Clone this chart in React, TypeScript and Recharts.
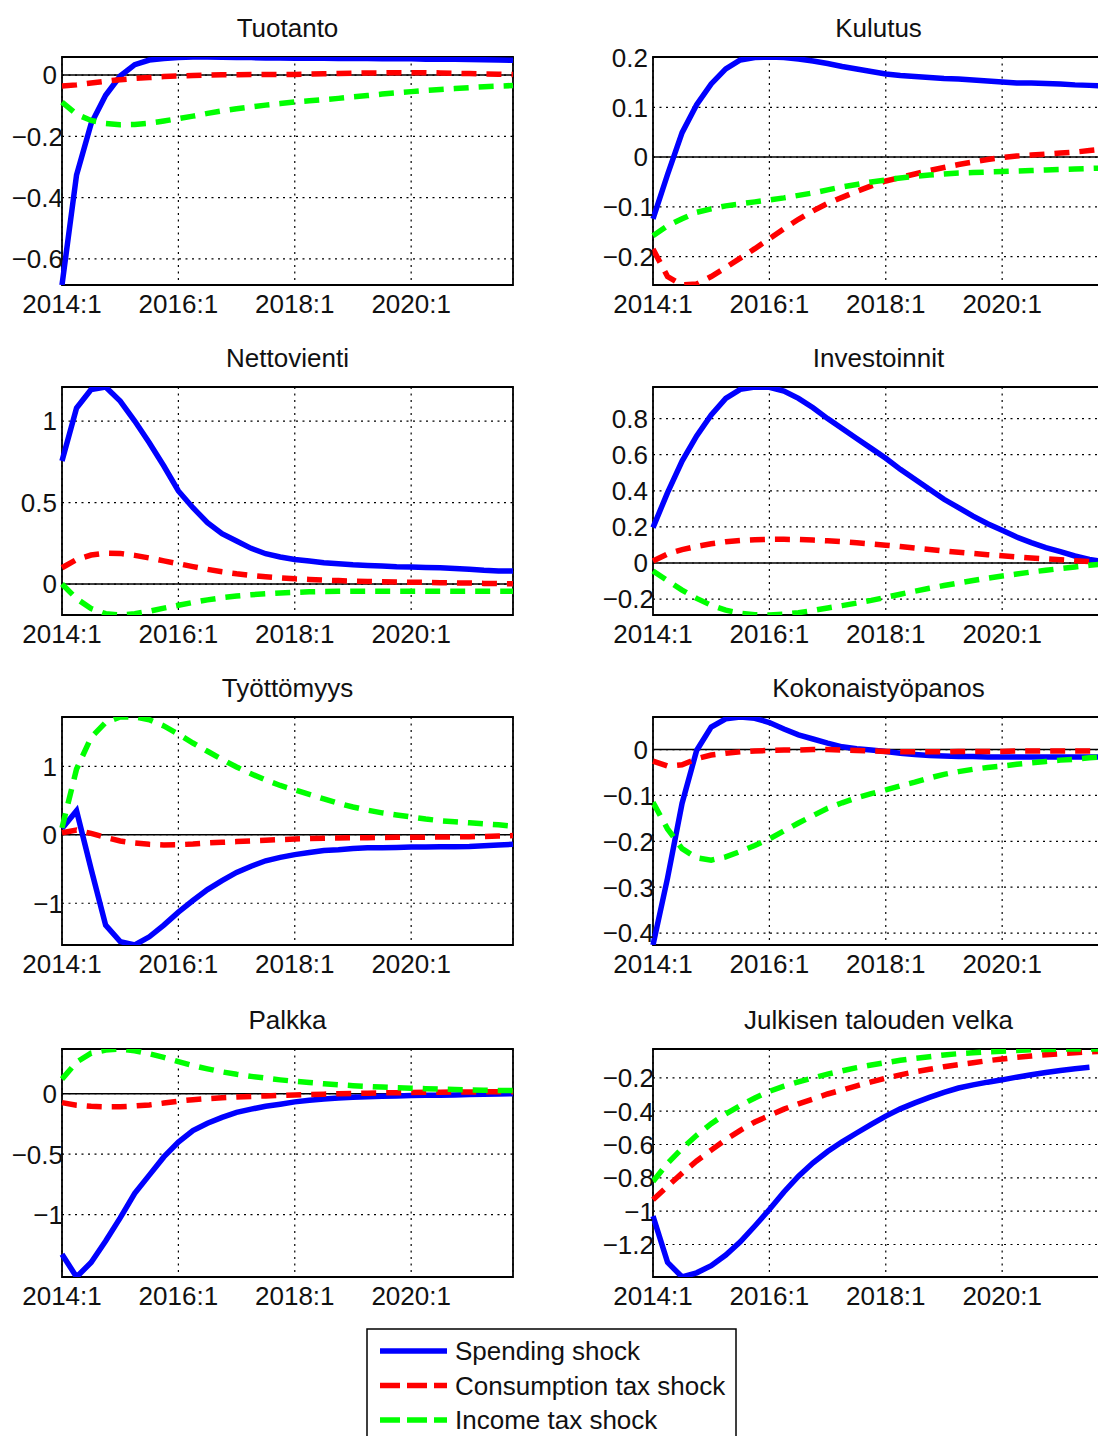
import React from "react";
import {
  LineChart,
  Line,
  XAxis,
  YAxis,
  CartesianGrid,
  ReferenceLine,
  ReferenceArea,
} from "recharts";

const quarters = [
  "2014:1", "2014:2", "2014:3", "2014:4",
  "2015:1", "2015:2", "2015:3", "2015:4",
  "2016:1", "2016:2", "2016:3", "2016:4",
  "2017:1", "2017:2", "2017:3", "2017:4",
  "2018:1", "2018:2", "2018:3", "2018:4",
  "2019:1", "2019:2", "2019:3", "2019:4",
  "2020:1", "2020:2", "2020:3", "2020:4",
  "2021:1", "2021:2", "2021:3", "2021:4",
];
const xTicks = ["2014:1", "2016:1", "2018:1", "2020:1"];
const seriesNames = ["Spending shock", "Consumption tax shock", "Income tax shock"];

// Tuotanto
const tuotantoSpending = [-0.685, -0.326, -0.159, -0.066, -0.003, 0.034, 0.049, 0.054, 0.057, 0.059, 0.059, 0.058, 0.057, 0.057, 0.056, 0.056, 0.055, 0.055, 0.055, 0.054, 0.054, 0.054, 0.053, 0.053, 0.053, 0.052, 0.052, 0.052, 0.051, 0.05, 0.049, 0.048];
const tuotantoConsumption = [-0.036, -0.032, -0.026, -0.02, -0.015, -0.011, -0.008, -0.005, -0.003, -0.001, 0, 0.001, 0.001, 0.002, 0.002, 0.002, 0.002, 0.003, 0.004, 0.005, 0.006, 0.007, 0.007, 0.008, 0.008, 0.008, 0.007, 0.006, 0.005, 0.004, 0.003, 0.002];
const tuotantoIncome = [-0.088, -0.128, -0.148, -0.158, -0.162, -0.161, -0.157, -0.15, -0.142, -0.134, -0.125, -0.117, -0.11, -0.104, -0.098, -0.093, -0.088, -0.084, -0.08, -0.076, -0.071, -0.067, -0.062, -0.058, -0.054, -0.05, -0.047, -0.044, -0.041, -0.038, -0.036, -0.034];

// Kulutus
const kulutusSpending = [-0.124, -0.035, 0.049, 0.105, 0.147, 0.177, 0.195, 0.2, 0.201, 0.2, 0.197, 0.193, 0.188, 0.182, 0.177, 0.172, 0.167, 0.164, 0.162, 0.16, 0.158, 0.157, 0.155, 0.153, 0.151, 0.149, 0.149, 0.148, 0.147, 0.145, 0.144, 0.143];
const kulutusConsumption = [-0.185, -0.24, -0.257, -0.255, -0.24, -0.222, -0.203, -0.184, -0.164, -0.144, -0.125, -0.108, -0.093, -0.081, -0.069, -0.058, -0.048, -0.041, -0.034, -0.027, -0.021, -0.015, -0.01, -0.005, -0.001, 0.002, 0.004, 0.006, 0.008, 0.01, 0.013, 0.016];
const kulutusIncome = [-0.158, -0.138, -0.124, -0.111, -0.104, -0.098, -0.094, -0.09, -0.086, -0.082, -0.077, -0.072, -0.066, -0.06, -0.055, -0.05, -0.046, -0.042, -0.039, -0.036, -0.034, -0.032, -0.031, -0.03, -0.029, -0.028, -0.027, -0.026, -0.025, -0.024, -0.023, -0.022];

// Nettovienti
const nettovientiSpending = [0.755, 1.08, 1.194, 1.209, 1.123, 1.0, 0.867, 0.724, 0.571, 0.468, 0.376, 0.309, 0.264, 0.219, 0.186, 0.166, 0.151, 0.141, 0.131, 0.125, 0.118, 0.114, 0.11, 0.106, 0.104, 0.102, 0.1, 0.096, 0.09, 0.084, 0.08, 0.08];
const nettovientiConsumption = [0.1, 0.15, 0.178, 0.19, 0.188, 0.176, 0.16, 0.142, 0.125, 0.107, 0.09, 0.075, 0.063, 0.053, 0.045, 0.038, 0.032, 0.028, 0.024, 0.021, 0.018, 0.016, 0.014, 0.012, 0.011, 0.01, 0.008, 0.007, 0.006, 0.004, 0.003, 0.002];
const nettovientiIncome = [0, -0.09, -0.15, -0.182, -0.19, -0.182, -0.167, -0.148, -0.13, -0.113, -0.097, -0.084, -0.074, -0.066, -0.06, -0.055, -0.051, -0.048, -0.046, -0.045, -0.044, -0.044, -0.044, -0.044, -0.044, -0.044, -0.044, -0.045, -0.045, -0.045, -0.045, -0.045];

// Investoinnit
const investoinnitSpending = [0.196, 0.39, 0.565, 0.704, 0.82, 0.912, 0.962, 0.975, 0.973, 0.953, 0.912, 0.86, 0.8, 0.745, 0.69, 0.635, 0.58, 0.519, 0.464, 0.408, 0.353, 0.307, 0.26, 0.218, 0.181, 0.144, 0.113, 0.085, 0.063, 0.039, 0.02, 0.007];
const investoinnitConsumption = [0.011, 0.05, 0.074, 0.092, 0.107, 0.118, 0.125, 0.129, 0.131, 0.131, 0.13, 0.127, 0.123, 0.118, 0.112, 0.106, 0.099, 0.091, 0.083, 0.075, 0.067, 0.06, 0.053, 0.046, 0.04, 0.034, 0.028, 0.023, 0.018, 0.013, 0.008, 0.004];
const investoinnitIncome = [-0.044, -0.098, -0.15, -0.196, -0.234, -0.261, -0.278, -0.287, -0.288, -0.284, -0.275, -0.263, -0.249, -0.236, -0.222, -0.207, -0.19, -0.173, -0.156, -0.14, -0.125, -0.111, -0.097, -0.084, -0.072, -0.061, -0.05, -0.04, -0.031, -0.022, -0.013, -0.006];

// Työttömyys
const tyottomyysSpending = [0.09, 0.35, -0.5, -1.32, -1.56, -1.61, -1.49, -1.32, -1.13, -0.96, -0.8, -0.67, -0.55, -0.46, -0.38, -0.33, -0.29, -0.26, -0.23, -0.22, -0.2, -0.19, -0.19, -0.185, -0.18, -0.18, -0.175, -0.175, -0.17, -0.16, -0.15, -0.14];
const tyottomyysConsumption = [0.03, 0.07, 0.02, -0.04, -0.09, -0.12, -0.14, -0.15, -0.145, -0.135, -0.12, -0.11, -0.1, -0.09, -0.08, -0.07, -0.062, -0.056, -0.05, -0.047, -0.044, -0.042, -0.04, -0.038, -0.037, -0.035, -0.033, -0.031, -0.028, -0.024, -0.018, -0.012];
const tyottomyysIncome = [0.1, 0.96, 1.42, 1.64, 1.72, 1.72, 1.68, 1.59, 1.47, 1.34, 1.22, 1.1, 0.99, 0.89, 0.8, 0.72, 0.655, 0.59, 0.525, 0.46, 0.405, 0.36, 0.32, 0.29, 0.26, 0.23, 0.205, 0.19, 0.175, 0.16, 0.145, 0.125];

// Kokonaistyöpanos
const tyopanosSpending = [-0.426, -0.28, -0.117, -0.002, 0.049, 0.067, 0.071, 0.068, 0.059, 0.045, 0.032, 0.023, 0.014, 0.006, 0.002, -0.001, -0.004, -0.008, -0.011, -0.013, -0.014, -0.015, -0.015, -0.016, -0.016, -0.016, -0.016, -0.016, -0.016, -0.016, -0.016, -0.016];
const tyopanosConsumption = [-0.025, -0.036, -0.033, -0.02, -0.012, -0.008, -0.005, -0.003, -0.002, -0.001, -0.001, 0, 0, -0.001, -0.002, -0.003, -0.004, -0.005, -0.005, -0.005, -0.005, -0.004, -0.004, -0.004, -0.004, -0.003, -0.003, -0.003, -0.003, -0.003, -0.003, -0.003];
const tyopanosIncome = [-0.115, -0.173, -0.216, -0.236, -0.241, -0.234, -0.222, -0.209, -0.195, -0.177, -0.16, -0.144, -0.128, -0.116, -0.105, -0.096, -0.088, -0.079, -0.071, -0.062, -0.054, -0.048, -0.043, -0.039, -0.036, -0.032, -0.029, -0.026, -0.023, -0.021, -0.018, -0.016];

// Palkka
const palkkaSpending = [-1.327, -1.515, -1.395, -1.218, -1.027, -0.823, -0.673, -0.523, -0.4, -0.305, -0.245, -0.196, -0.155, -0.128, -0.104, -0.087, -0.068, -0.054, -0.044, -0.035, -0.03, -0.025, -0.022, -0.019, -0.016, -0.014, -0.013, -0.011, -0.008, -0.005, -0.003, 0];
const palkkaConsumption = [-0.074, -0.095, -0.105, -0.109, -0.108, -0.102, -0.093, -0.078, -0.062, -0.05, -0.041, -0.034, -0.028, -0.023, -0.019, -0.015, -0.011, -0.007, -0.004, -0.001, 0.002, 0.004, 0.006, 0.008, 0.009, 0.011, 0.012, 0.013, 0.014, 0.015, 0.016, 0.016];
const palkkaIncome = [0.12, 0.26, 0.335, 0.36, 0.369, 0.355, 0.33, 0.3, 0.265, 0.232, 0.205, 0.18, 0.16, 0.143, 0.128, 0.114, 0.102, 0.092, 0.082, 0.074, 0.066, 0.06, 0.054, 0.049, 0.045, 0.041, 0.037, 0.034, 0.031, 0.029, 0.027, 0.026];

// Julkisen talouden velka
const velkaSpending = [-1.03, -1.307, -1.395, -1.37, -1.327, -1.263, -1.184, -1.089, -0.99, -0.885, -0.79, -0.71, -0.642, -0.584, -0.531, -0.479, -0.43, -0.386, -0.35, -0.317, -0.287, -0.261, -0.242, -0.226, -0.212, -0.196, -0.182, -0.168, -0.156, -0.145, -0.137, null];
const velkaConsumption = [-0.931, -0.851, -0.772, -0.699, -0.634, -0.57, -0.515, -0.465, -0.426, -0.388, -0.356, -0.327, -0.297, -0.273, -0.248, -0.224, -0.202, -0.182, -0.164, -0.149, -0.133, -0.121, -0.109, -0.097, -0.087, -0.077, -0.069, -0.061, -0.055, -0.05, -0.044, -0.04];
const velkaIncome = [-0.822, -0.713, -0.624, -0.545, -0.475, -0.416, -0.366, -0.321, -0.281, -0.25, -0.224, -0.2, -0.178, -0.158, -0.139, -0.123, -0.109, -0.095, -0.083, -0.073, -0.063, -0.055, -0.05, -0.044, -0.04, -0.036, -0.032, -0.03, -0.028, -0.027, -0.027, -0.027];

const FONT = '"Liberation Sans", Arial, Helvetica, sans-serif';
const FONT_SIZE = 26;
const colors = ["#0000ff", "#ff0000", "#00ff00"];
const keys = ["spending", "consumption", "income"];

const PLOT_W = 451;
const PLOT_H = 228;
const Y_AXIS_W = 62;
const TOP_PAD = 16;
const X_AXIS_H = 44;

const fmt = (v: number) => String(v).replace("-", "\u2212");

// MATLAB right-aligns assuming a hyphen, then draws a wider minus sign
const YTick = (props: any) => {
  const { x, y, payload } = props;
  const v = payload.value as number;
  return (
    <text
      x={v < 0 ? x + 1 : x - 5}
      y={y}
      dy="0.36em"
      textAnchor="end"
      fontSize={FONT_SIZE}
      fontFamily={FONT}
      fill="#111"
    >
      {fmt(v)}
    </text>
  );
};

type PanelProps = {
  title: string;
  spending: (number | null)[];
  consumption: number[];
  income: number[];
  yTicks: number[];
  plotLeft: number;
  plotTop: number;
};

function Panel({ title, spending, consumption, income, yTicks, plotLeft, plotTop }: PanelProps) {
  const data = quarters.map((q, i) => ({
    q,
    spending: spending[i],
    consumption: consumption[i],
    income: income[i],
  }));
  const all = [...spending, ...consumption, ...income].filter((v) => v !== null) as number[];
  const yMin = Math.min(...all);
  const yMax = Math.max(...all);

  return (
    <>
      <div
        style={{
          position: "absolute",
          left: plotLeft,
          top: plotTop - 42,
          width: PLOT_W,
          textAlign: "center",
          fontFamily: FONT,
          fontSize: FONT_SIZE,
          lineHeight: "26px",
          color: "#111",
          whiteSpace: "nowrap",
        }}
      >
        {title}
      </div>
      <div style={{ position: "absolute", left: plotLeft - Y_AXIS_W, top: plotTop - TOP_PAD }}>
        <LineChart
          width={Y_AXIS_W + PLOT_W + 30}
          height={TOP_PAD + PLOT_H + X_AXIS_H}
          data={data}
          margin={{ top: TOP_PAD, right: 30, bottom: 0, left: 0 }}
        >
          <CartesianGrid stroke="#000" strokeWidth={1.2} strokeDasharray="2 4.5" />
          <XAxis
            dataKey="q"
            type="category"
            ticks={xTicks}
            interval={0}
            height={X_AXIS_H}
            tickLine={false}
            axisLine={false}
            tickSize={0}
            tickMargin={10}
            tick={{ fill: "#111", fontSize: FONT_SIZE, fontFamily: FONT }}
          />
          <YAxis
            type="number"
            domain={[yMin, yMax]}
            ticks={yTicks}
            interval={0}
            allowDataOverflow
            width={Y_AXIS_W}
            tickLine={false}
            axisLine={false}
            tickSize={0}
            tickMargin={0}
            tick={<YTick />}
          />
          <ReferenceLine y={0} stroke="#000" strokeWidth={1.5} />
          {keys.map((k, idx) => (
            <Line
              key={k}
              dataKey={k}
              name={seriesNames[idx]}
              type="linear"
              stroke={colors[idx]}
              strokeWidth={5.5}
              strokeDasharray={idx === 0 ? undefined : "15 10"}
              dot={false}
              activeDot={false}
              isAnimationActive={false}
            />
          ))}
          <ReferenceArea
            x1={quarters[0]}
            x2={quarters[quarters.length - 1]}
            y1={yMin}
            y2={yMax}
            fill="none"
            stroke="#000"
            strokeWidth={1.8}
          />
        </LineChart>
      </div>
    </>
  );
}

function Legend() {
  return (
    <svg
      width={372}
      height={112}
      style={{ position: "absolute", left: 366, top: 1328 }}
    >
      <rect x={1} y={1} width={369} height={130} fill="#fff" stroke="#000" strokeWidth={1.5} />
      {seriesNames.map((name, k) => (
        <g key={name}>
          <line
            x1={14}
            x2={81}
            y1={23 + 34.5 * k}
            y2={23 + 34.5 * k}
            stroke={colors[k]}
            strokeWidth={5.5}
            strokeDasharray={k === 0 ? undefined : "20 7"}
          />
          <text x={89} y={32 + 34.5 * k} fontSize={FONT_SIZE} fontFamily={FONT} fill="#111">
            {name}
          </text>
        </g>
      ))}
    </svg>
  );
}

const LEFT = 62;
const RIGHT = 653;
const ROWS = [57, 387, 717, 1049];

export default function App() {
  return (
    <div
      style={{
        position: "absolute",
        left: 0,
        top: 0,
        width: 1098,
        height: 1436,
        overflow: "hidden",
        background: "#fff",
      }}
    >
      <Panel title="Tuotanto" spending={tuotantoSpending} consumption={tuotantoConsumption} income={tuotantoIncome} yTicks={[-0.6, -0.4, -0.2, 0]} plotLeft={LEFT} plotTop={ROWS[0]} />
      <Panel title="Kulutus" spending={kulutusSpending} consumption={kulutusConsumption} income={kulutusIncome} yTicks={[-0.2, -0.1, 0, 0.1, 0.2]} plotLeft={RIGHT} plotTop={ROWS[0]} />
      <Panel title="Nettovienti" spending={nettovientiSpending} consumption={nettovientiConsumption} income={nettovientiIncome} yTicks={[0, 0.5, 1]} plotLeft={LEFT} plotTop={ROWS[1]} />
      <Panel title="Investoinnit" spending={investoinnitSpending} consumption={investoinnitConsumption} income={investoinnitIncome} yTicks={[-0.2, 0, 0.2, 0.4, 0.6, 0.8]} plotLeft={RIGHT} plotTop={ROWS[1]} />
      <Panel title="Työttömyys" spending={tyottomyysSpending} consumption={tyottomyysConsumption} income={tyottomyysIncome} yTicks={[-1, 0, 1]} plotLeft={LEFT} plotTop={ROWS[2]} />
      <Panel title="Kokonaistyöpanos" spending={tyopanosSpending} consumption={tyopanosConsumption} income={tyopanosIncome} yTicks={[-0.4, -0.3, -0.2, -0.1, 0]} plotLeft={RIGHT} plotTop={ROWS[2]} />
      <Panel title="Palkka" spending={palkkaSpending} consumption={palkkaConsumption} income={palkkaIncome} yTicks={[-1, -0.5, 0]} plotLeft={LEFT} plotTop={ROWS[3]} />
      <Panel title="Julkisen talouden velka" spending={velkaSpending} consumption={velkaConsumption} income={velkaIncome} yTicks={[-1.2, -1, -0.8, -0.6, -0.4, -0.2]} plotLeft={RIGHT} plotTop={ROWS[3]} />
      <Legend />
    </div>
  );
}
